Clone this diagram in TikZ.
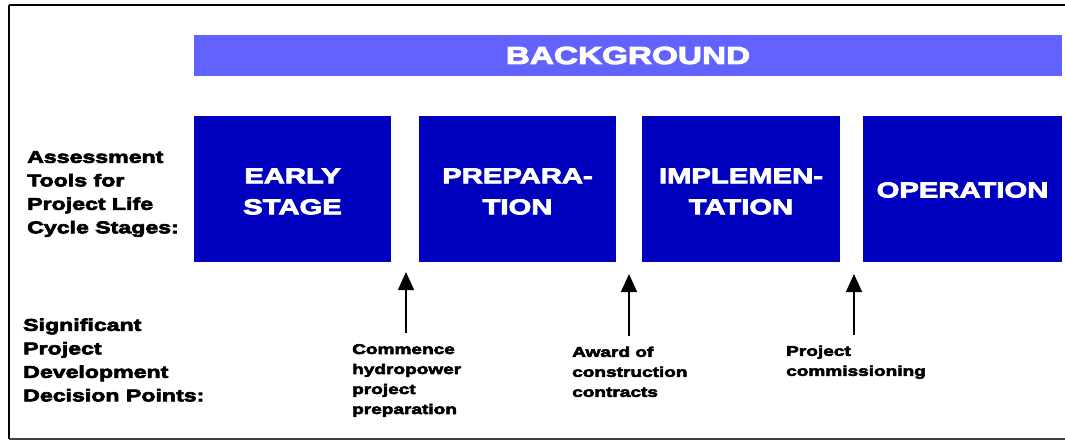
\documentclass[tikz,border=0pt]{standalone}
\usepackage{fontspec}
\setmainfont{Liberation Sans}
\newfontfamily\blk{Liberation Sans}[FakeStretch=1.36,UprightFont=* Bold,FakeBold=4]
\usetikzlibrary{arrows.meta}
\definecolor{barblue}{HTML}{6262FF}
\definecolor{boxblue}{HTML}{0000BF}
\begin{document}
\begin{tikzpicture}[x=1pt,y=-1pt,
  stage/.style={fill=boxblue,draw=none,inner sep=0pt,minimum height=146pt},
  stagetext/.style={text=white,align=center,inner sep=0pt,
    font=\blk\fontsize{21.5}{31}\selectfont},
  bar/.style={fill=barblue,draw=none,text=white,inner sep=0pt,
    minimum width=868pt,minimum height=41pt,font=\blk\fontsize{24.5}{28}\selectfont},
  sidelabel/.style={align=left,inner sep=0pt,anchor=west,
    font=\blk\fontsize{17}{23.5}\selectfont},
  ptlabel/.style={align=left,inner sep=0pt,anchor=north west,
    font=\blk\fontsize{14}{20}\selectfont},
  arr/.style={line width=1.4pt,-{Triangle[width=16pt,length=18pt]},shorten <=11pt}]
\useasboundingbox (0,0) rectangle (1065,440);
\draw[line width=2pt] (9,4.5) -- (1070,4.5);
\draw[line width=2pt] (9,4.5) -- (9,439);
\draw[line width=1.6pt,black!75] (9,439) -- (1070,439);

\node[bar] (bg) at (628,55.5) {BACKGROUND};

\node[stage,minimum width=197pt] (early) at (292.5,189) {};
\node[stage,minimum width=197pt] (prep) at (517.5,189) {};
\node[stage,minimum width=198pt] (impl) at (741,189) {};
\node[stage,minimum width=199pt] (oper) at (962.5,189) {};
\node[stagetext] (earlyt) at ([yshift=-2.5pt]early.center) {EARLY\\STAGE};
\node[stagetext] (prept) at ([yshift=-2.5pt]prep.center) {PREPARA-\\TION};
\node[stagetext] (implt) at ([yshift=-2.5pt]impl.center) {IMPLEMEN-\\TATION};
\node[stagetext] (opert) at ([yshift=-1pt]oper.center) {OPERATION};

\node[sidelabel] (tools) at (27,194) {Assessment\\Tools for\\Project Life\\Cycle Stages:};
\node[sidelabel] (dec) at (23,360) {Significant\\Project\\Development\\Decision Points:};

\node[ptlabel] (p1) at (352,344) {Commence\\hydropower\\project\\preparation};
\node[ptlabel] (p2) at (572,346.5) {Award of\\construction\\contracts};
\node[ptlabel] (p3) at (786,345.5) {Project\\commissioning};

\coordinate (t1) at (406,272);
\coordinate (t2) at (629,274);
\coordinate (t3) at (854,274);

\draw[arr] (p1.north -| t1) -- (t1);
\draw[arr] (p2.north -| t2) -- (t2);
\draw[arr] (p3.north -| t3) -- (t3);
\end{tikzpicture}
\end{document}
